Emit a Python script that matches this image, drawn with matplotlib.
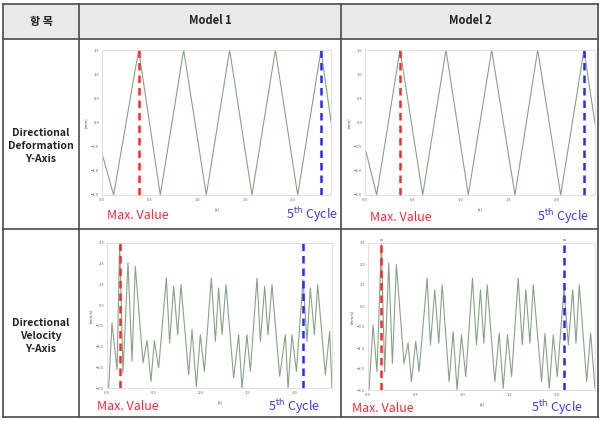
import numpy as np
import matplotlib
matplotlib.use("Agg")
import matplotlib.pyplot as plt
from matplotlib.lines import Line2D

plt.rcParams['font.family'] = ['Noto Sans CJK KR', 'DejaVu Sans']

W, H = 600, 421

# time axis [s]
x_ticks = [0, 0.5, 1.0, 1.5, 2.0]
x_max = 2.4

# directional deformation Y-axis [mm]
def_ticks = [-1.5, -1, -0.5, 0, 0.5, 1, 1.5]
def1_t = [0.0, 0.122, 0.384, 0.611, 0.856, 1.093, 1.338, 1.572, 1.817, 2.051, 2.295, 2.40]
def1_y = [-0.64, -1.5, 1.5, -1.5, 1.5, -1.5, 1.5, -1.5, 1.5, -1.5, 1.5, 0.02]
def2_t = [0.01, 0.122, 0.365, 0.602, 0.845, 1.078, 1.322, 1.565, 1.802, 2.042, 2.285, 2.40]
def2_y = [-0.60, -1.5, 1.5, -1.5, 1.5, -1.5, 1.5, -1.5, 1.5, -1.5, 1.5, -0.02]

# directional velocity Y-axis [mm/s]
vel_ticks = [-3.5, -2.5, -1.5, -0.5, 0.5, 1.5, 2.5, 3.5]
vel1_t = [0.018, 0.053, 0.107, 0.135, 0.171, 0.224, 0.267, 0.302, 0.384, 0.427, 0.469,
          0.505, 0.551, 0.633, 0.668, 0.711, 0.754, 0.789, 0.871, 0.907, 0.953, 0.996,
          1.038, 1.113, 1.156, 1.191, 1.227, 1.269, 1.351, 1.404, 1.440, 1.493, 1.529,
          1.600, 1.636, 1.682, 1.717, 1.760, 1.842, 1.902, 1.931, 1.973, 2.020, 2.091,
          2.133, 2.169, 2.212, 2.247, 2.329, 2.375, 2.40]
vel1_y = [-3.5, -0.36, -2.61, 3.5, -2.76, 2.55, -2.21, 2.37, -2.28, -1.21, -3.18,
          -1.21, -2.53, 1.81, -1.33, 1.41, -0.93, 1.49, -2.86, -0.68, -3.42, -0.93,
          -2.70, 1.81, -1.25, 1.33, -0.93, 1.49, -3.02, -0.93, -3.5, -0.93, -2.70,
          1.81, -1.25, 1.41, -0.93, 1.49, -2.94, -0.93, -3.5, -0.93, -2.70, 1.73,
          -1.25, 1.33, -0.93, 1.49, -2.86, -0.76, -3.5]
vel2_t = [0.011, 0.053, 0.095, 0.141, 0.176, 0.219, 0.258, 0.300, 0.381, 0.424, 0.459,
          0.505, 0.540, 0.625, 0.660, 0.706, 0.748, 0.784, 0.858, 0.900, 0.942, 0.988,
          1.034, 1.105, 1.147, 1.189, 1.225, 1.260, 1.341, 1.387, 1.429, 1.475, 1.518,
          1.588, 1.631, 1.669, 1.712, 1.747, 1.835, 1.871, 1.916, 1.959, 2.001, 2.072,
          2.118, 2.164, 2.199, 2.234, 2.312, 2.354, 2.40]
vel2_y = [-3.5, -0.40, -2.63, 3.45, -2.63, 2.54, -2.23, 2.46, -2.23, -1.27, -3.10,
          -1.19, -2.63, 1.83, -1.35, 1.27, -1.27, 1.51, -3.10, -0.72, -3.5, -0.88,
          -2.86, 1.83, -1.35, 1.27, -1.27, 1.51, -3.10, -0.80, -3.42, -0.88, -2.86,
          1.83, -1.35, 1.27, -1.27, 1.51, -3.10, -0.80, -3.42, -0.88, -2.86, 1.35,
          -1.35, 1.27, -1.27, 1.51, -3.10, -0.80, -3.42]

# marker lines: time of max value / 5th cycle
max_t = [0.384, 0.365, 0.135, 0.135]
cyc_t = [2.295, 2.285, 2.091, 2.072]

row_names = ["Directional\nDeformation\nY-Axis", "Directional\nVelocity\nY-Axis"]
col_names = ["항 목", "Model 1", "Model 2"]

LINE_C = "#86a386"
GRID_C = "#d9d9d9"


def px_box(l, t, r, b):
    return [l / W, 1 - b / H, (r - l) / W, (b - t) / H]


def draw_panel(fig, box, t, y, yticks, ylabel, tmax, tcyc, lbl_y, max_x, cyc_x):
    ax = fig.add_axes(px_box(*box))
    ax.plot(t, y, color=LINE_C, lw=0.8)
    ax.set_xlim(0, x_max)
    ax.set_ylim(yticks[0], yticks[-1])
    ax.set_xticks(x_ticks)
    ax.set_yticks(yticks)
    ax.tick_params(length=0, labelsize=3, labelcolor="#666666", pad=2)
    for s in ax.spines.values():
        s.set_color(GRID_C)
        s.set_linewidth(0.6)
    ax.set_ylabel(ylabel, fontsize=3, color="#444444", labelpad=2)
    ax.set_xlabel("[s]", fontsize=3, color="#444444", labelpad=4)
    ax.axvline(tmax, ymin=0, ymax=1.03, color="#ff2a2a", lw=1.8, ls=(0, (3, 2)), clip_on=False)
    ax.axvline(tcyc, ymin=0, ymax=1.03, color="#2a2aff", lw=1.8, ls=(0, (3, 2)), clip_on=False)
    fig.text(max_x / W, 1 - lbl_y / H, "Max. Value", color="#ff2a3a", fontsize=9,
             ha="left", va="center")
    fig.text(cyc_x / W, 1 - lbl_y / H, "5$^{\\rm th}$ Cycle", color="#3a3aff", fontsize=9,
             ha="right", va="center")
    return ax


fig = plt.figure(figsize=(6, 4.21), dpi=100)
fig.patch.set_facecolor("white")

# header background
hdr = plt.Rectangle((3 / W, 1 - 39 / H), 595 / W, 35 / H, transform=fig.transFigure,
                    facecolor="#e9e9e9", edgecolor="none", zorder=0)
fig.add_artist(hdr)

# table grid
lc = "#4a4a4a"
for yp in [4, 39, 229, 417]:
    fig.add_artist(Line2D([3 / W, 598 / W], [1 - yp / H] * 2, color=lc, lw=1.2))
for xp in [3, 79, 341, 598]:
    fig.add_artist(Line2D([xp / W] * 2, [1 - 4 / H, 1 - 417 / H], color=lc, lw=1.2))

# header texts
for xc, name in zip([41, 210, 470], col_names):
    fig.text(xc / W, 1 - 21 / H, name, fontsize=8, fontweight="bold", ha="center",
             va="center", color="#222222")
for yc, name in zip([146, 336], row_names):
    fig.text(41 / W, 1 - yc / H, name, fontsize=7.5, fontweight="bold", ha="center",
             va="center", color="#222222", linespacing=1.35)

draw_panel(fig, (102, 50, 331, 195), def1_t, def1_y, def_ticks, "[mm]",
           max_t[0], cyc_t[0], 215, 107, 338)
draw_panel(fig, (365, 50, 595, 195), def2_t, def2_y, def_ticks, "[mm]",
           max_t[1], cyc_t[1], 217, 370, 589)
draw_panel(fig, (107, 243, 332, 388), vel1_t, vel1_y, vel_ticks, "[mm/s]",
           max_t[2], cyc_t[2], 407, 97, 320)
draw_panel(fig, (368, 243, 595, 390), vel2_t, vel2_y, vel_ticks, "[mm/s]",
           max_t[3], cyc_t[3], 408, 352, 583)

plt.savefig("out.png", dpi=100)
